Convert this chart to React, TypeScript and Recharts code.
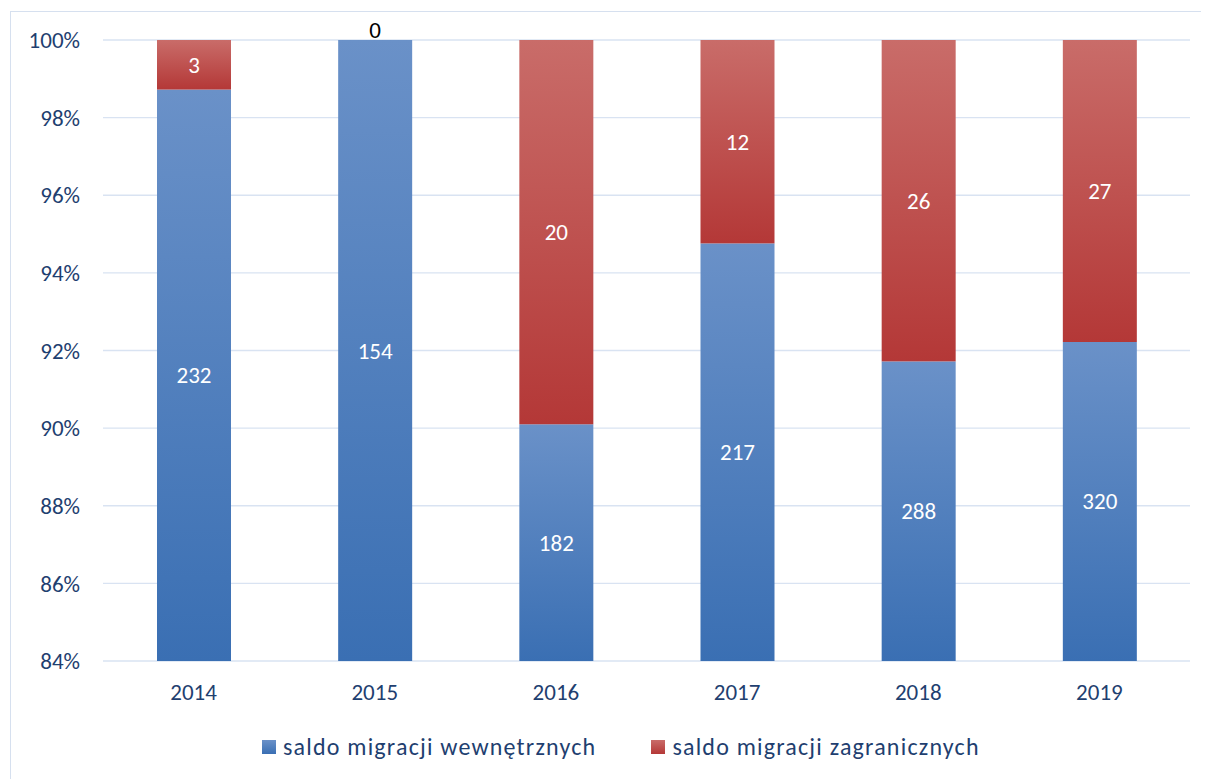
import { Bar, BarChart, CartesianGrid, LabelList, XAxis, YAxis } from "recharts";

const years = ["2014", "2015", "2016", "2017", "2018", "2019"];
const internal = [232, 154, 182, 217, 288, 320];
const foreign = [3, 0, 20, 12, 26, 27];
const yTicks = [0.84, 0.86, 0.88, 0.9, 0.92, 0.94, 0.96, 0.98, 1];
const seriesNames = ["saldo migracji wewnętrznych", "saldo migracji zagranicznych"];

// shares of the yearly total (100% stacked)
const data = years.map((year, i) => {
  const total = internal[i] + foreign[i];
  return {
    year,
    internal: internal[i] / total,
    foreign: foreign[i] / total,
  };
});

const W = 1190;
const H = 767;
const MARGIN = { top: 28, right: 11, left: 0, bottom: 78 };
const XAXIS_H = 40;
const PLOT_BOTTOM = H - MARGIN.bottom - XAXIS_H;

const FONT = "Carlito, Calibri, 'Open Sans', sans-serif";
const TEXT = "#1F3F70";
const GRID = "#D9E3F2";

// bar segment clipped to the plot, so the gradient spans only the visible part
function Segment(props: any) {
  const { x, y, width, height, fill } = props;
  const bottom = Math.min(y + height, PLOT_BOTTOM);
  const h = Math.max(0, bottom - y);
  if (h <= 0) return null;
  return <rect x={x} y={y} width={width} height={h} fill={fill} />;
}

function SegLabel(props: any) {
  const { index, values } = props;
  const vb = props.viewBox || props;
  const x = vb.x ?? props.x;
  const y = vb.y ?? props.y;
  const width = vb.width ?? props.width;
  const height = vb.height ?? props.height;
  const v = values[index];
  const cx = x + width / 2;
  if (v === 0) {
    return (
      <text x={cx} y={y - 10} fill="#000" fontSize={23} textAnchor="middle" dominantBaseline="central" fontFamily={FONT}>
        {v}
      </text>
    );
  }
  const bottom = Math.min(y + height, PLOT_BOTTOM);
  return (
    <text x={cx} y={(y + bottom) / 2} fill="#fff" fontSize={23} textAnchor="middle" dominantBaseline="central" fontFamily={FONT}>
      {v}
    </text>
  );
}

export default function App() {
  return (
    <div
      style={{
        position: "relative",
        width: W + 1,
        height: H + 1,
        marginLeft: 2,
        marginTop: 3,
        borderTop: "1px solid #D6E0EF",
        borderLeft: "1px solid #D6E0EF",
        boxSizing: "border-box",
        fontFamily: FONT,
      }}
    >
      <BarChart width={W} height={H} data={data} margin={MARGIN}>
        <defs>
          <linearGradient id="gBlue" x1="0" y1="0" x2="0" y2="1">
            <stop offset="0%" stopColor="#6A91C8" />
            <stop offset="100%" stopColor="#3A6FB3" />
          </linearGradient>
          <linearGradient id="gRed" x1="0" y1="0" x2="0" y2="1">
            <stop offset="0%" stopColor="#C96C69" />
            <stop offset="100%" stopColor="#B43837" />
          </linearGradient>
        </defs>
        <CartesianGrid vertical={false} stroke={GRID} strokeWidth={1.3} />
        <XAxis
          dataKey="year"
          height={XAXIS_H}
          axisLine={false}
          tickLine={false}
          tickSize={0}
          tickMargin={23}
          tick={{ fill: TEXT, fontSize: 23, fontFamily: FONT }}
        />
        <YAxis
          width={92}
          type="number"
          domain={[0.84, 1]}
          allowDataOverflow
          ticks={yTicks}
          interval={0}
          axisLine={false}
          tickLine={false}
          tickSize={0}
          tickMargin={23}
          tickFormatter={(v: number) => `${Math.round(v * 100)}%`}
          tick={{ fill: TEXT, fontSize: 23, fontFamily: FONT }}
        />
        <Bar
          dataKey="internal"
          stackId="a"
          barSize={74}
          fill="url(#gBlue)"
          isAnimationActive={false}
          shape={(p: any) => <Segment {...p} fill="url(#gBlue)" />}
        >
          <LabelList dataKey="internal" content={(p: any) => <SegLabel {...p} values={internal} />} />
        </Bar>
        <Bar
          dataKey="foreign"
          stackId="a"
          barSize={74}
          fill="url(#gRed)"
          isAnimationActive={false}
          shape={(p: any) => <Segment {...p} fill="url(#gRed)" />}
        >
          <LabelList dataKey="foreign" content={(p: any) => <SegLabel {...p} values={foreign} />} />
        </Bar>
      </BarChart>
      <div
        style={{
          position: "absolute",
          top: 721,
          left: 0,
          width: W,
          height: 28,
          display: "flex",
          justifyContent: "flex-start",
          alignItems: "center",
          paddingLeft: 251,
          boxSizing: "border-box",
          color: TEXT,
          fontSize: 24,
          letterSpacing: 1.2,
        }}
      >
        {seriesNames.map((name, i) => (
          <div key={name} style={{ display: "flex", alignItems: "center", marginLeft: i ? 55 : 0 }}>
            <span
              style={{
                display: "inline-block",
                width: 14,
                height: 14,
                marginRight: 7,
                background: i ? "linear-gradient(#C96C69, #B43837)" : "linear-gradient(#6A91C8, #3A6FB3)",
              }}
            />
            <span style={{ lineHeight: "28px", whiteSpace: "nowrap" }}>{name}</span>
          </div>
        ))}
      </div>
    </div>
  );
}
